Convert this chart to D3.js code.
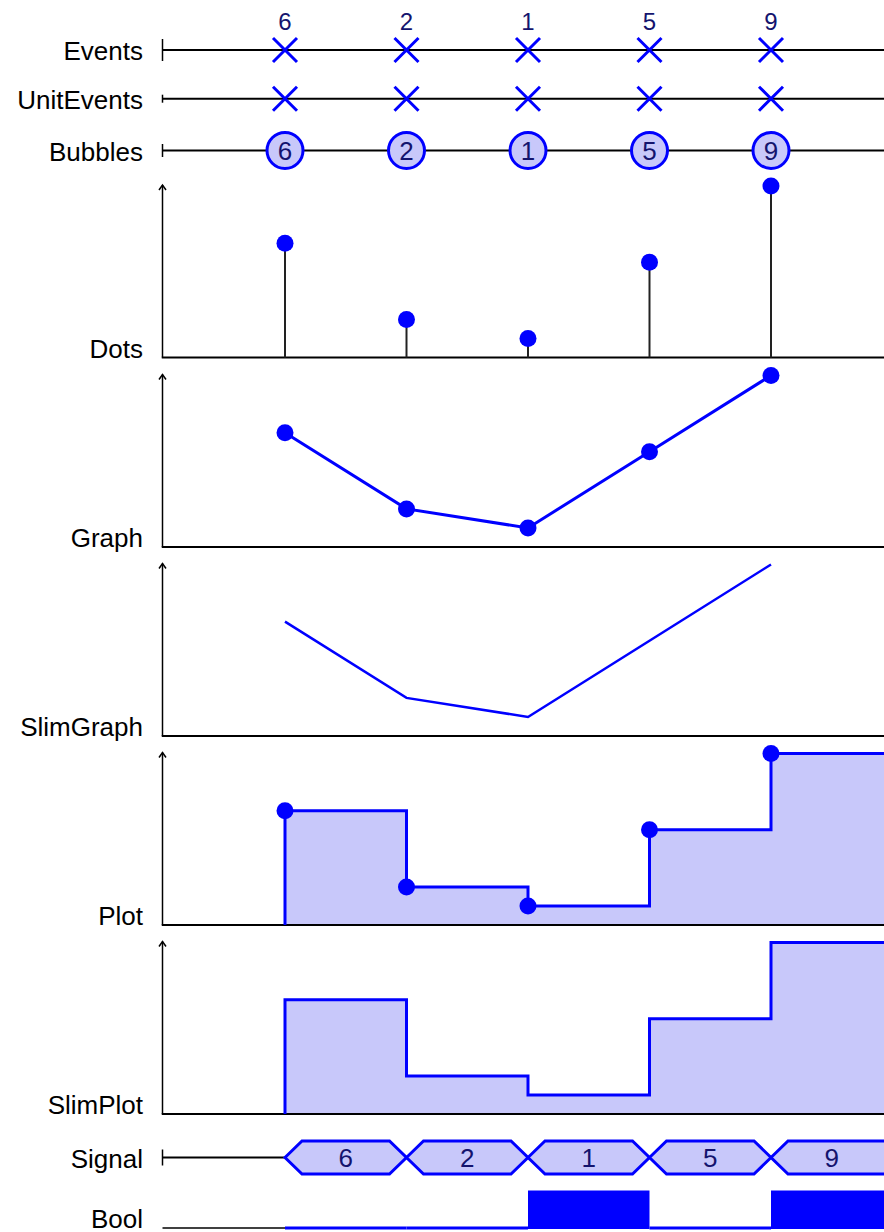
<!DOCTYPE html>
<html lang="en">
<head>
<meta charset="utf-8">
<title>Timeline rows</title>
<script src="https://cdn.jsdelivr.net/npm/d3@7"></script>
<style>
  body { margin: 0; background: #fff; }
  svg { display: block; }
  .label { font-family: "Liberation Sans", "Helvetica", "Arial", sans-serif; font-size: 26px; fill: #000; text-anchor: end; }
  .num { font-family: "Liberation Sans", "Helvetica", "Arial", sans-serif; fill: #14146e; text-anchor: middle; }
</style>
</head>
<body>
<script>
// data
const times = [1, 2, 3, 4, 5];
const values = [6, 2, 1, 5, 9];
const bools = [false, false, true, false, true];
const rowLabels = ["Events", "UnitEvents", "Bubbles", "Dots", "Graph", "SlimGraph", "Plot", "SlimPlot", "Signal", "Bool"];

const width = 884, height = 1232;
const axisX = 162.5;     // left end of every row
const labelX = 143;
const blue = "#0000ff", lavender = "#c8c8fa";

const x = d3.scaleLinear().domain([0, 6]).range([163.5, 892.5]);

const svg = d3.select("body").append("svg")
  .attr("width", width).attr("height", height);

// simple rows (events / unit events / bubbles / signal)
const rowY = { Events: 50, UnitEvents: 98.7, Bubbles: 150.5, Signal: 1157.5, Bool: 1228 };
const tickH = { Events: 11, UnitEvents: 4, Bubbles: 6.5, Signal: 8 };

function timeline(name, y0, xEnd) {
  svg.append("line").attr("x1", axisX).attr("x2", xEnd).attr("y1", y0).attr("y2", y0)
    .attr("stroke", "#000").attr("stroke-width", 2);
  svg.append("line").attr("x1", axisX).attr("x2", axisX)
    .attr("y1", y0 - tickH[name]).attr("y2", y0 + tickH[name])
    .attr("stroke", "#000").attr("stroke-width", 1.5);
  svg.append("text").attr("class", "label").attr("x", labelX).attr("y", y0 + 10).text(name);
}

function crosses(y0) {
  const g = svg.append("g");
  times.forEach(t => {
    const cx = x(t), s = 12;
    g.append("path")
      .attr("d", `M${cx - s},${y0 - s}L${cx + s},${y0 + s}M${cx - s},${y0 + s}L${cx + s},${y0 - s}`)
      .attr("stroke", blue).attr("stroke-width", 3).attr("fill", "none");
  });
}

// Events
timeline("Events", rowY.Events, width);
crosses(rowY.Events);
svg.selectAll(".evnum").data(values).enter().append("text")
  .attr("class", "num").attr("x", (d, i) => x(times[i])).attr("y", 29.5)
  .style("font-size", "24px").text(d => d);

// UnitEvents
timeline("UnitEvents", rowY.UnitEvents, width);
crosses(rowY.UnitEvents);

// Bubbles
timeline("Bubbles", rowY.Bubbles, width);
svg.selectAll(".bub").data(values).enter().append("circle")
  .attr("cx", (d, i) => x(times[i])).attr("cy", rowY.Bubbles).attr("r", 18)
  .attr("fill", lavender).attr("stroke", blue).attr("stroke-width", 3);
svg.selectAll(".bubnum").data(values).enter().append("text")
  .attr("class", "num").attr("x", (d, i) => x(times[i])).attr("y", rowY.Bubbles + 9.5)
  .style("font-size", "26px").text(d => d);

// value panels
const panelBases = { Dots: 357.5, Graph: 547, SlimGraph: 736, Plot: 925, SlimPlot: 1114 };
const panelH = 171.5;
const pts = times.map((t, i) => ({ t, v: values[i] }));

function panel(name) {
  const base = panelBases[name];
  const y = d3.scaleLinear().domain([0, 9]).range([base, base - panelH]);
  const top = base - panelH - 1;
  svg.append("line").attr("x1", axisX).attr("x2", axisX).attr("y1", base).attr("y2", top)
    .attr("stroke", "#000").attr("stroke-width", 1.5);
  svg.append("path").attr("d", `M${axisX - 3.5},${top + 5}L${axisX},${top}L${axisX + 3.5},${top + 5}`)
    .attr("stroke", "#000").attr("stroke-width", 1.5).attr("fill", "none");
  svg.append("text").attr("class", "label").attr("x", labelX).attr("y", base).text(name);
  return y;
}

function baseline(name) {
  const base = panelBases[name];
  svg.append("line").attr("x1", axisX - 0.75).attr("x2", width).attr("y1", base).attr("y2", base)
    .attr("stroke", "#000").attr("stroke-width", 2);
}

function dots(y) {
  svg.append("g").selectAll("circle").data(pts).enter().append("circle")
    .attr("cx", d => x(d.t)).attr("cy", d => y(d.v)).attr("r", 8.5).attr("fill", blue);
}

// Dots
{
  const y = panel("Dots");
  baseline("Dots");
  svg.append("g").selectAll("line").data(pts).enter().append("line")
    .attr("x1", d => x(d.t)).attr("x2", d => x(d.t))
    .attr("y1", y(0)).attr("y2", d => y(d.v))
    .attr("stroke", "#222").attr("stroke-width", 2);
  dots(y);
}

// Graph
{
  const y = panel("Graph");
  baseline("Graph");
  svg.append("path").datum(pts)
    .attr("d", d3.line().x(d => x(d.t)).y(d => y(d.v)))
    .attr("fill", "none").attr("stroke", blue).attr("stroke-width", 3);
  dots(y);
}

// SlimGraph
{
  const y = panel("SlimGraph");
  baseline("SlimGraph");
  svg.append("path").datum(pts)
    .attr("d", d3.line().x(d => x(d.t)).y(d => y(d.v)))
    .attr("fill", "none").attr("stroke", blue).attr("stroke-width", 2.5);
}

// step plots
const stepPts = [{ t: times[0], v: 0 }, ...pts, { t: 6, v: values[values.length - 1] }];

function stepPanel(name, withDots) {
  const y = panel(name);
  const base = panelBases[name];
  svg.append("path").datum(stepPts)
    .attr("d", d3.area().curve(d3.curveStepAfter).x(d => x(d.t)).y0(base).y1(d => y(d.v)))
    .attr("fill", lavender);
  baseline(name);
  svg.append("path").datum(stepPts)
    .attr("d", d3.line().curve(d3.curveStepAfter).x(d => x(d.t)).y(d => y(d.v)))
    .attr("fill", "none").attr("stroke", blue).attr("stroke-width", 3);
  if (withDots) dots(y);
}
stepPanel("Plot", true);
stepPanel("SlimPlot", false);

// Signal
{
  const yc = rowY.Signal, h = 16.5, c = 17;
  timeline("Signal", yc, x(times[0]));
  const segs = times.map((t, i) => ({ t0: t, t1: i < times.length - 1 ? times[i + 1] : 6.5, v: values[i] }));
  const g = svg.append("g");
  segs.forEach(s => {
    const x0 = x(s.t0), x1 = x(s.t1);
    g.append("path")
      .attr("d", `M${x0},${yc}L${x0 + c},${yc - h}L${x1 - c},${yc - h}L${x1},${yc}L${x1 - c},${yc + h}L${x0 + c},${yc + h}Z`)
      .attr("fill", lavender).attr("stroke", blue).attr("stroke-width", 3).attr("stroke-linejoin", "miter");
  });
  svg.selectAll(".signum").data(segs.slice(0, 4).concat([{ t0: 5, t1: 6, v: values[4] }])).enter().append("text")
    .attr("class", "num").attr("x", d => (x(d.t0) + x(d.t1)) / 2).attr("y", yc + 9.5)
    .style("font-size", "26px").text(d => d.v);
}

// Bool
{
  const yb = rowY.Bool, top = 1190.5;
  svg.append("text").attr("class", "label").attr("x", labelX).attr("y", yb).text("Bool");
  svg.append("line").attr("x1", axisX).attr("x2", x(times[0])).attr("y1", yb).attr("y2", yb)
    .attr("stroke", "#000").attr("stroke-width", 1.5);
  const segs = times.map((t, i) => ({ t0: t, t1: i < times.length - 1 ? times[i + 1] : 6.5, b: bools[i] }));
  svg.append("g").selectAll("rect").data(segs.filter(d => d.b)).enter().append("rect")
    .attr("x", d => x(d.t0)).attr("width", d => x(d.t1) - x(d.t0))
    .attr("y", top).attr("height", yb - top + 1).attr("fill", blue);
  svg.append("g").selectAll("line").data(segs.filter(d => !d.b)).enter().append("line")
    .attr("x1", d => x(d.t0)).attr("x2", d => x(d.t1)).attr("y1", yb).attr("y2", yb)
    .attr("stroke", blue).attr("stroke-width", 3);
}
</script>
</body>
</html>
